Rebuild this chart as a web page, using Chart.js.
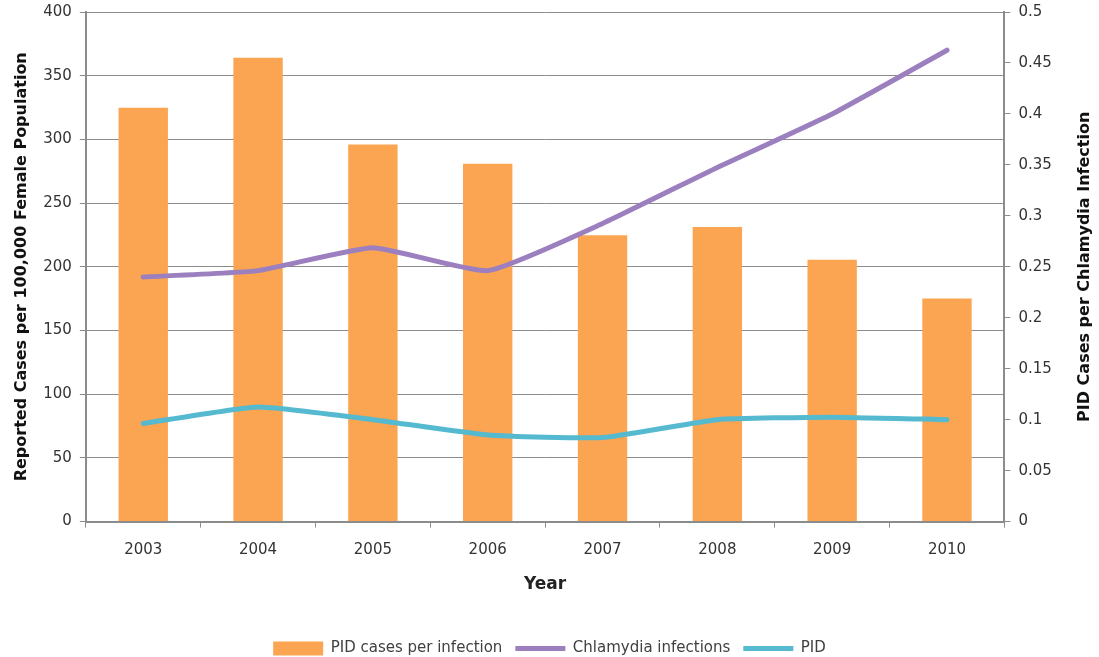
<!DOCTYPE html>
<html>
<head>
<meta charset="utf-8">
<script src="https://cdn.jsdelivr.net/npm/chart.js@4.4.1/dist/chart.umd.min.js"></script>
<style>
  html, body { margin: 0; padding: 0; background: #fff; overflow: hidden; }
  #frame { width: 1099px; height: 657px; overflow: hidden; position: relative; }
  /* canvas a bit taller than the frame and nudged up to place the plot like the original */
  #wrap { width: 1099px; height: 671px; position: absolute; top: -5px; left: 0; }
</style>
</head>
<body>
<div id="frame"><div id="wrap"><canvas id="pidChart"></canvas></div></div>
<script>
// Years on the x axis
const years = ['2003', '2004', '2005', '2006', '2007', '2008', '2009', '2010'];

// Bars, right axis
const pidPerInfection = [0.406, 0.455, 0.370, 0.351, 0.281, 0.289, 0.257, 0.219];

// Lines, left axis (per 100,000 females)
const chlamydiaInfections = [192, 197, 215, 197, 234, 278, 320, 370];
const pidCases = [77, 90, 80, 68, 66, 80, 82, 80];

// Axis ranges
const leftTicks = { min: 0, max: 400, step: 50 };
const rightTicks = { min: 0, max: 0.5, step: 0.05 };

const rightTitle = 'PID Cases per Chlamydia Infection';

const tickFont = { family: 'DejaVu Sans', size: 15 };
const titleFont = { family: 'DejaVu Sans', size: 16, weight: 'bold' };
const gridGray = '#8c8c8c';

// Right axis title reads bottom-to-top in the original, so draw it ourselves
const rightTitlePlugin = {
    id: 'rightTitle',
    afterDraw(chart) {
        const scale = chart.scales.y1;
        const c = chart.ctx;
        c.save();
        c.translate(scale.right - 6, (scale.top + scale.bottom) / 2);
        c.rotate(-Math.PI / 2);
        c.font = 'bold 16px "DejaVu Sans"';
        c.fillStyle = '#111';
        c.textAlign = 'center';
        c.textBaseline = 'middle';
        c.fillText(rightTitle, 0, 0);
        c.restore();
    }
};

const ctx = document.getElementById('pidChart').getContext('2d');

new Chart(ctx, {
    type: 'bar',
    data: {
        labels: years,
        datasets: [
            {
                type: 'line',
                label: 'Chlamydia infections',
                data: chlamydiaInfections,
                yAxisID: 'y',
                borderColor: '#9b7fbe',
                backgroundColor: '#9b7fbe',
                borderWidth: 5,
                borderCapStyle: 'round',
                pointRadius: 0,
                pointStyle: 'line',
                tension: 0.15,
                order: 1
            },
            {
                type: 'line',
                label: 'PID',
                data: pidCases,
                yAxisID: 'y',
                borderColor: '#55b9d0',
                backgroundColor: '#55b9d0',
                borderWidth: 5,
                borderCapStyle: 'round',
                pointRadius: 0,
                pointStyle: 'line',
                tension: 0.15,
                order: 0
            },
            {
                label: 'PID cases per infection',
                data: pidPerInfection,
                yAxisID: 'y1',
                backgroundColor: '#fba552',
                borderWidth: 0,
                barPercentage: 0.43,
                categoryPercentage: 1,
                pointStyle: 'rect',
                order: 2
            }
        ]
    },
    options: {
        responsive: true,
        maintainAspectRatio: false,
        animation: false,
        layout: { padding: { left: 8, right: 8, top: 0, bottom: 0 } },
        plugins: {
            tooltip: { enabled: false },
            legend: {
                position: 'bottom',
                labels: {
                    usePointStyle: true,
                    pointStyleWidth: 50,
                    boxHeight: 14,
                    padding: 13,
                    color: '#404040',
                    font: { family: 'DejaVu Sans', size: 15 },
                    // bars first, like the original legend
                    sort: (a, b) => {
                        const rank = { 'PID cases per infection': 0, 'Chlamydia infections': 1, 'PID': 2 };
                        return rank[a.text] - rank[b.text];
                    }
                }
            }
        },
        scales: {
            x: {
                grid: {
                    offset: true,
                    drawOnChartArea: false,
                    drawTicks: true,
                    tickLength: 6,
                    color: gridGray
                },
                border: { color: gridGray, width: 2 },
                ticks: { color: '#333', font: tickFont, padding: 14 },
                title: {
                    display: true,
                    text: 'Year',
                    color: '#222',
                    font: { family: 'DejaVu Sans', size: 17, weight: 'bold' },
                    padding: { top: 1, bottom: 33 }
                }
            },
            y: {
                position: 'left',
                min: leftTicks.min,
                max: leftTicks.max,
                ticks: { stepSize: leftTicks.step, color: '#333', font: tickFont, padding: 8 },
                grid: { color: gridGray, tickLength: 6, lineWidth: 1 },
                border: { color: gridGray, width: 2 },
                title: {
                    display: true,
                    text: 'Reported Cases per 100,000 Female Population',
                    color: '#111',
                    font: titleFont,
                    padding: { bottom: 4 }
                }
            },
            y1: {
                position: 'right',
                min: rightTicks.min,
                max: rightTicks.max,
                ticks: {
                    stepSize: rightTicks.step,
                    color: '#333',
                    font: tickFont,
                    padding: 8,
                    callback: (v) => String(Math.round(v * 100) / 100)
                },
                grid: { drawOnChartArea: false, color: gridGray, tickLength: 6 },
                border: { color: gridGray, width: 2 },
                title: {
                    display: true,
                    text: rightTitle,
                    color: 'rgba(0,0,0,0)',
                    font: titleFont,
                    padding: { top: 8 }
                }
            }
        }
    },
    plugins: [rightTitlePlugin]
});
</script>
</body>
</html>
